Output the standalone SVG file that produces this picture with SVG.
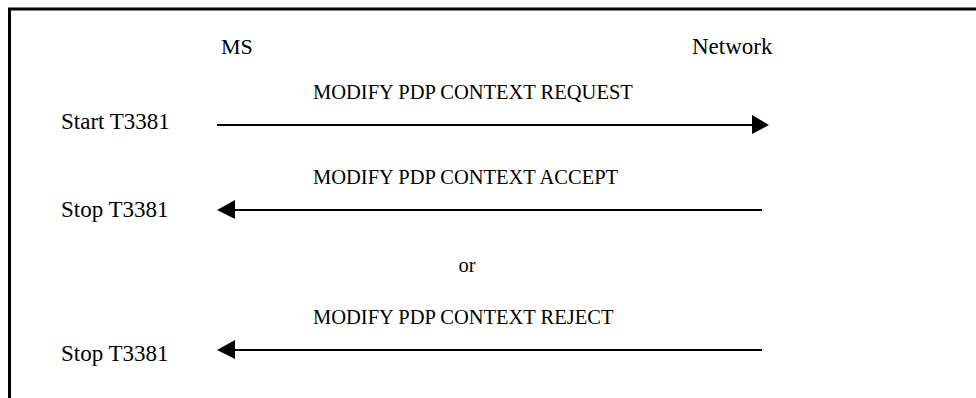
<svg xmlns="http://www.w3.org/2000/svg" width="976" height="398" viewBox="0 0 976 398">
<style>
text{font-family:"Liberation Serif","Times New Roman",serif;font-size:23px;fill:#000}
.msg{font-size:20.5px}
.ln{stroke:#000;stroke-width:2;fill:none}
.ah{fill:#000}
</style>
<rect width="976" height="398" fill="#fff"/>
<path d="M9.5,398 V9 H976" stroke="#000" stroke-width="3" fill="none"/>
<g id="ms"><text x="221" y="54" style="font-size:22px">MS</text></g>
<g id="network"><text x="692" y="54">Network</text></g>
<g id="labels">
<text x="61" y="129">Start T3381</text>
<text x="61" y="217">Stop T3381</text>
<text x="61" y="361">Stop T3381</text>
<text x="467" y="272" text-anchor="middle" class="msg">or</text>
</g>
<g id="connectors">
<g id="req">
<text class="msg" x="313" y="99">MODIFY PDP CONTEXT REQUEST</text>
<line class="ln" x1="217" y1="125" x2="754" y2="125"/>
<polygon class="ah" points="752,115 769,125 752,134"/>
</g>
<g id="acc">
<text class="msg" x="313" y="184">MODIFY PDP CONTEXT ACCEPT</text>
<line class="ln" x1="233" y1="210" x2="762" y2="210"/>
<polygon class="ah" points="235,200 217,210 235,219"/>
</g>
<g id="rej">
<text class="msg" x="313" y="324">MODIFY PDP CONTEXT REJECT</text>
<line class="ln" x1="233" y1="350" x2="762" y2="350"/>
<polygon class="ah" points="235,340 217,350 235,359"/>
</g>
</g>
</svg>
